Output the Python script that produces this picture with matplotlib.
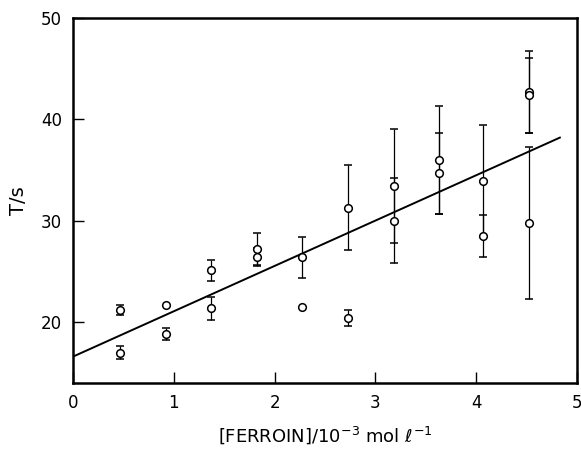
import matplotlib
matplotlib.use("Agg")
import matplotlib.pyplot as plt
import numpy as np

# Data with error bars
x_err = [0.47, 0.47, 0.92, 1.37, 1.37, 1.83, 1.83, 2.27, 2.73, 2.73,
         3.18, 3.18, 3.63, 3.63, 4.07, 4.07, 4.52, 4.52, 4.52]
y_err = [21.2, 17.0, 18.8, 25.1, 21.35, 27.2, 26.4, 26.4, 31.3, 20.4,
         33.4, 30.0, 36.0, 34.7, 33.9, 28.5, 42.7, 42.4, 29.8]
e_err = [0.5, 0.6, 0.6, 1.0, 1.15, 1.6, 0.9, 2.0, 4.2, 0.75,
         5.6, 4.2, 5.3, 4.0, 5.5, 2.05, 4.0, 3.7, 7.5]

# Data without error bars
x_plain = [0.92, 2.27]
y_plain = [21.7, 21.45]

# Fitted line
line_x = [0.0, 4.83]
line_y = [16.6, 38.2]

x_ticks = [0, 1, 2, 3, 4, 5]
x_ticklabels = ["0", "1", "2", "3", "4", "5"]
y_ticks = [20, 30, 40, 50]
y_ticklabels = ["20", "30", "40", "50"]

plt.rcParams['font.family'] = ['DejaVu Sans']
fig = plt.figure(figsize=(5.81, 4.49), dpi=100)
ax = fig.add_axes([0.1256, 0.147, 0.8675, 0.813])

ax.plot(line_x, line_y, color='black', lw=1.4, zorder=2)
ax.errorbar(x_err, y_err, yerr=e_err, fmt='o', mfc='white', mec='black',
            ms=5.5, mew=1.1, ecolor='black', elinewidth=0.9, capsize=3,
            capthick=1.0, zorder=3)
ax.plot(x_plain, y_plain, 'o', mfc='white', mec='black', ms=5.5, mew=1.1, zorder=3)

ax.set_xlim(0, 5)
ax.set_ylim(14, 50)
ax.set_xticks(x_ticks)
ax.set_xticklabels(x_ticklabels)
ax.set_yticks(y_ticks)
ax.set_yticklabels(y_ticklabels)
ax.tick_params(direction='in', length=8, width=1.0, labelsize=12, pad=8,
               top=False, right=False)
for s in ax.spines.values():
    s.set_linewidth(1.8)

ax.set_xlabel(r"[FERROIN]/10$^{-3}$ mol $\ell^{-1}$", fontsize=13, labelpad=9)
ax.set_ylabel("T/s", fontsize=14, labelpad=9)

fig.savefig("out.png", dpi=100)
